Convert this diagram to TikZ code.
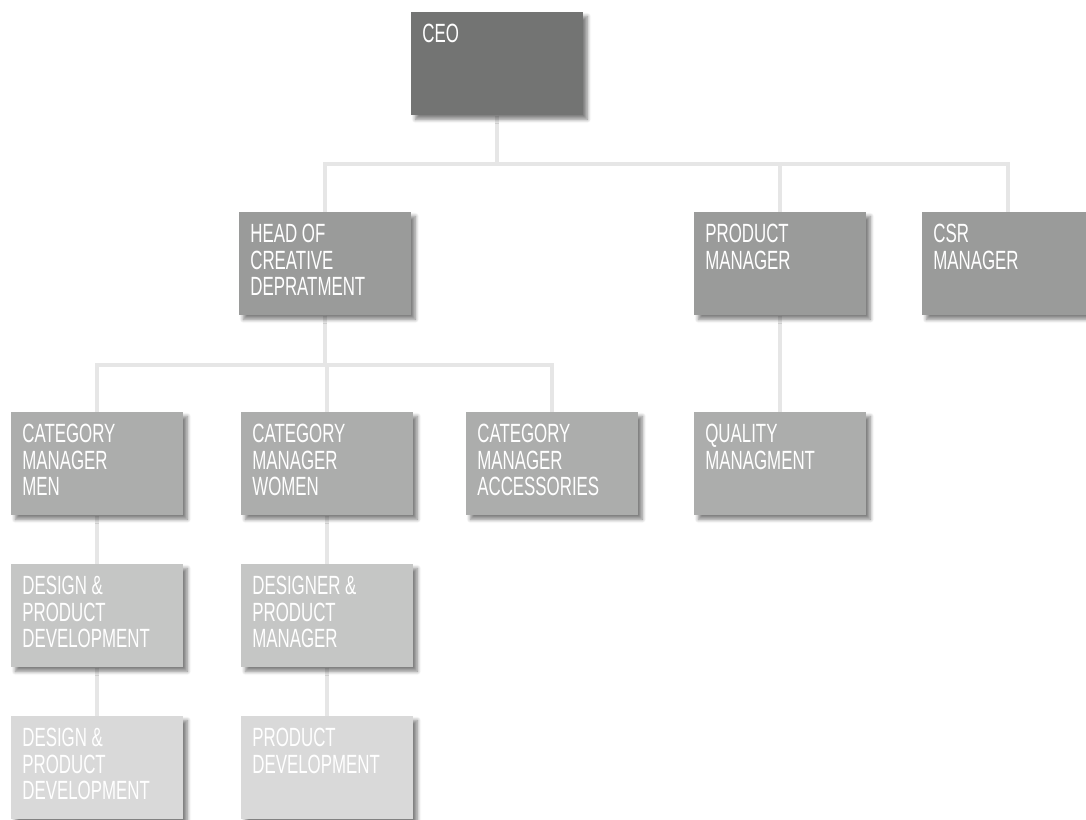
\documentclass[tikz,border=0pt]{standalone}
\usepackage{fontspec}
\setmainfont[FakeStretch=0.64]{Liberation Sans}
\usetikzlibrary{backgrounds,shadows.blur}

\definecolor{ceogray}{HTML}{737473}
\definecolor{headgray}{HTML}{9A9B9A}
\definecolor{catgray}{HTML}{ACADAC}
\definecolor{devgray}{HTML}{C5C6C5}
\definecolor{lastgray}{HTML}{D9D9D9}
\definecolor{linkgray}{HTML}{E6E6E6}

\newcommand{\boxlines}[1]{\parbox[t][1.58cm][t]{3.0cm}{\raggedright\fontsize{15}{15}\selectfont #1}}

\begin{document}
\begin{tikzpicture}[x=0.02cm, y=-0.02cm,
        orgbox/.style={rectangle, anchor=north west, text=white, inner xsep=0.22cm, inner ysep=0.23cm, minimum width=3.44cm, minimum height=2.06cm, blur shadow={shadow xshift=0.08cm, shadow yshift=-0.08cm, shadow blur steps=6, shadow opacity=50}},
        link/.style={draw=linkgray, line width=0.08cm}
    ]
    \useasboundingbox (0,0) rectangle (1086,819);

    % top level
    \node[orgbox, fill=ceogray] (ceo) at (411,12) {\boxlines{CEO}};

    % second level
    \node[orgbox, fill=headgray] (head) at (239,212) {\boxlines{HEAD OF\\CREATIVE\\DEPRATMENT}};
    \node[orgbox, fill=headgray] (product) at (694,212) {\boxlines{PRODUCT\\MANAGER}};
    \node[orgbox, fill=headgray] (csr) at (922,212) {\boxlines{CSR\\MANAGER}};

    % third level
    \node[orgbox, fill=catgray] (men) at (11,412) {\boxlines{CATEGORY\\MANAGER\\MEN}};
    \node[orgbox, fill=catgray] (women) at (241,412) {\boxlines{CATEGORY\\MANAGER\\WOMEN}};
    \node[orgbox, fill=catgray] (accessories) at (466,412) {\boxlines{CATEGORY\\MANAGER\\ACCESSORIES}};
    \node[orgbox, fill=catgray] (quality) at (694,412) {\boxlines{QUALITY\\MANAGMENT}};

    % fourth and fifth level
    \node[orgbox, fill=devgray] (designmen) at (11,564) {\boxlines{DESIGN \&\\PRODUCT\\DEVELOPMENT}};
    \node[orgbox, fill=devgray] (designwomen) at (241,564) {\boxlines{DESIGNER \&\\PRODUCT\\MANAGER}};
    \node[orgbox, fill=lastgray] (devmen) at (11,716) {\boxlines{DESIGN \&\\PRODUCT\\DEVELOPMENT}};
    \node[orgbox, fill=lastgray] (devwomen) at (241,716) {\boxlines{PRODUCT\\DEVELOPMENT}};

    \begin{scope}[on background layer]
        \foreach \child in {head, product, csr}
            \draw[link] (ceo.south) -- ++(0,48) -| (\child.north);
        \foreach \child in {men, women, accessories}
            \draw[link] (head.south) -- ++(0,49) -| (\child.north);
        \draw[link] (product.south) -- (quality.north);
        \draw[link] (men.south) -- (designmen.north);
        \draw[link] (women.south) -- (designwomen.north);
        \draw[link] (designmen.south) -- (devmen.north);
        \draw[link] (designwomen.south) -- (devwomen.north);
    \end{scope}
\end{tikzpicture}
\end{document}
